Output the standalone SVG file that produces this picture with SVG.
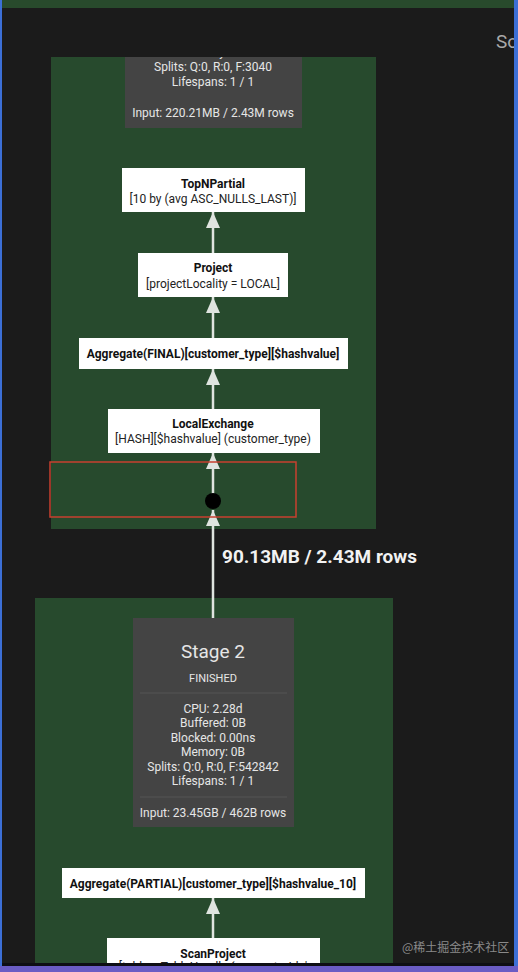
<svg xmlns="http://www.w3.org/2000/svg" width="518" height="972" viewBox="0 0 518 972">
<defs>
<style>
.stage{fill:#274a2d}
.stat{fill:#444444}
.node{fill:#ffffff}
.st{font-family:Roboto,"Liberation Sans",sans-serif;font-size:12px;fill:#e6e6e6;text-anchor:middle}
.nt{font-family:Roboto,"Liberation Sans",sans-serif;font-size:12px;fill:#222;text-anchor:middle}
.nb{font-family:Roboto,"Liberation Sans",sans-serif;font-size:12px;fill:#111;font-weight:bold;text-anchor:middle}
.edge{stroke:#dfe4df;stroke-width:2.5;fill:none}
.sep{stroke:#555;stroke-width:1}
</style>
<marker id="ah" viewBox="0 0 16 14" refX="16" refY="7" markerWidth="16" markerHeight="14" markerUnits="userSpaceOnUse" orient="auto">
<path d="M16 7 L0 0 L0 14 Z" fill="#dfe4df"/>
</marker>
<clipPath id="clip"><rect x="0" y="0" width="518" height="964"/></clipPath>
</defs>
<rect x="0" y="0" width="518" height="972" fill="#1b1b1b"/>
<rect x="0" y="0" width="514" height="8" fill="#284a2c"/>
<text x="496" y="48" font-family="Roboto,'Liberation Sans',sans-serif" font-size="19" fill="#a9a9a9">So</text>

<g clip-path="url(#clip)">
<g id="stage1">
<rect class="stage" x="51" y="57" width="325" height="472"/>
<rect class="stat" x="125" y="57" width="177" height="71"/>
<text class="st" x="213" y="56">Memory: 0B</text>
<text class="st" x="213" y="71">Splits: Q:0, R:0, F:3040</text>
<text class="st" x="213" y="86">Lifespans: 1 / 1</text>
<text class="st" x="213" y="117">Input: 220.21MB / 2.43M rows</text>
</g>
<rect x="51" y="44" width="325" height="13" fill="#1b1b1b"/>

<g id="stage2">
<rect class="stage" x="35" y="598" width="358" height="374"/>
<rect class="stat" x="133" y="618" width="161" height="209"/>
<text x="213" y="658" font-family="Roboto,'Liberation Sans',sans-serif" font-size="19" fill="#e6e6e6" text-anchor="middle">Stage 2</text>
<text x="213" y="682" font-family="Roboto,'Liberation Sans',sans-serif" font-size="11" fill="#e6e6e6" text-anchor="middle">FINISHED</text>
<line class="sep" x1="140" y1="693" x2="287" y2="693"/>
<text class="st" x="213" y="713">CPU: 2.28d</text>
<text class="st" x="213" y="727">Buffered: 0B</text>
<text class="st" x="213" y="742">Blocked: 0.00ns</text>
<text class="st" x="213" y="756">Memory: 0B</text>
<text class="st" x="213" y="771">Splits: Q:0, R:0, F:542842</text>
<text class="st" x="213" y="785">Lifespans: 1 / 1</text>
<line class="sep" x1="140" y1="797" x2="287" y2="797"/>
<text class="st" x="213" y="817">Input: 23.45GB / 462B rows</text>
</g>

<g id="edges">
<line class="edge" x1="213" y1="253" x2="213" y2="212" marker-end="url(#ah)"/>
<line class="edge" x1="213" y1="338" x2="213" y2="297" marker-end="url(#ah)"/>
<line class="edge" x1="213" y1="409" x2="213" y2="369" marker-end="url(#ah)"/>
<line class="edge" x1="213" y1="501" x2="213" y2="453" marker-end="url(#ah)"/>
<line class="edge" x1="213" y1="618" x2="213" y2="510" marker-end="url(#ah)"/>
<line class="edge" x1="213" y1="938" x2="213" y2="898" marker-end="url(#ah)"/>
<circle cx="213" cy="501" r="8" fill="#000"/>
<text x="222" y="563" font-family="Roboto,'Liberation Sans',sans-serif" font-size="19" font-weight="bold" fill="#f2f2f2">90.13MB / 2.43M rows</text>
</g>

<g id="topn">
<rect class="node" x="122" y="168" width="183" height="44"/>
<text class="nb" x="213" y="188">TopNPartial</text>
<text class="nt" x="213" y="203">[10 by (avg ASC_NULLS_LAST)]</text>
</g>
<g id="project">
<rect class="node" x="138" y="253" width="150" height="44"/>
<text class="nb" x="213" y="272">Project</text>
<text class="nt" x="213" y="288">[projectLocality = LOCAL]</text>
</g>
<g id="aggfinal">
<rect class="node" x="79" y="338" width="269" height="31"/>
<text class="nb" x="213" y="358">Aggregate(FINAL)[customer_type][$hashvalue]</text>
</g>
<g id="localexchange">
<rect class="node" x="108" y="409" width="212" height="44"/>
<text class="nb" x="213" y="428">LocalExchange</text>
<text class="nt" x="213" y="443">[HASH][$hashvalue] (customer_type)</text>
</g>
<g id="aggpartial">
<rect class="node" x="62" y="868" width="303" height="30"/>
<text class="nb" x="213" y="888">Aggregate(PARTIAL)[customer_type][$hashvalue_10]</text>
</g>
<g id="scanproject">
<rect class="node" x="107" y="938" width="213" height="40"/>
<text class="nb" x="213" y="958">ScanProject</text>
<text class="nt" x="213" y="971">[table = TableHandle {connectorId='</text>
</g>
<rect id="highlight" x="50" y="462" width="246" height="55" fill="none" stroke="#c8402f" stroke-width="1.5"/>
</g>

<text x="402" y="952" font-family="'Noto Sans CJK SC',sans-serif" font-size="12" fill="#8a8a8a">@稀土掘金技术社区</text>
<rect x="0" y="963" width="518" height="3" fill="#0e0e14"/>
<rect x="0" y="966" width="518" height="6" fill="#6a5cc4"/>
<rect x="0" y="0" width="2" height="966" fill="#3c6fd6"/>
<rect x="514" y="0" width="4" height="966" fill="#3c6fd6"/>
</svg>
